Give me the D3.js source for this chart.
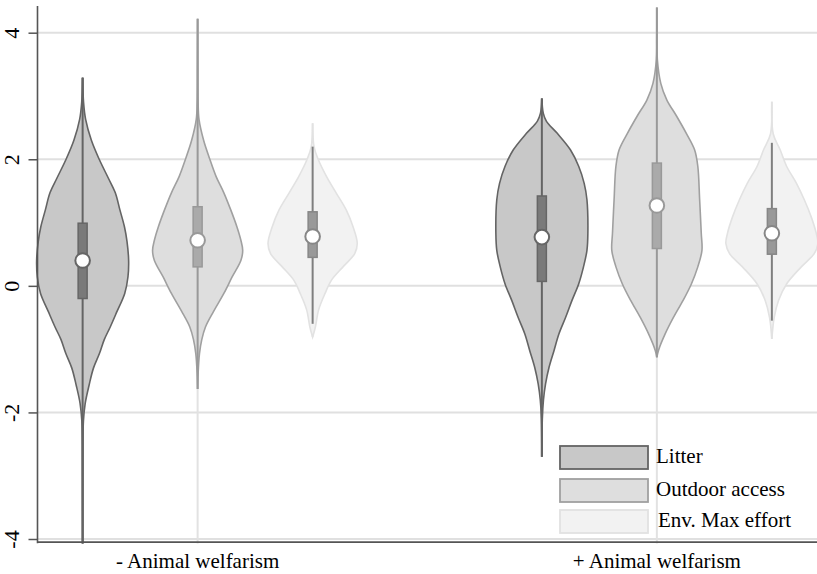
<!DOCTYPE html>
<html>
<head>
<meta charset="utf-8">
<script src="https://cdn.jsdelivr.net/npm/d3@7"></script>
<style>
  html, body { margin: 0; padding: 0; background: #fff; }
  svg { display: block; }
</style>
</head>
<body>
<svg id="chart" width="817" height="574"></svg>
<script>
// ---------------- DATA ----------------
const groups = ["- Animal welfarism", "+ Animal welfarism"];
const series = ["Litter", "Outdoor access", "Env. Max effort"];
const yTicks = [-4, -2, 0, 2, 4];

// box / whisker statistics [group][series]
const medians   = [[0.40, 0.72, 0.78], [0.77, 1.27, 0.83]];
const q1        = [[-0.20, 0.30, 0.45], [0.07, 0.59, 0.50]];
const q3        = [[0.99, 1.25, 1.17], [1.42, 1.94, 1.22]];
const whiskerLo = [[-4.07, -1.63, -0.60], [-2.70, -1.13, -0.55]];
const whiskerHi = [[3.29, 4.22, 2.20], [2.96, 4.40, 2.26]];
// faint tails beyond the whiskers
const tailLo    = [[-4.07, -4.07, -0.81], [-2.70, -4.07, -0.84]];
const tailHi    = [[3.29, 4.22, 2.57], [2.96, 4.40, 2.91]];

// density profiles: [value, relative density]
const densLitterMinus = [[3.29,0],[2.9,0.02],[2.63,0.065],[2.3,0.19],[2.0,0.36],[1.7,0.56],[1.47,0.71],[1.2,0.81],[0.93,0.91],[0.7,0.965],[0.4,1.0],[0.14,0.985],[-0.12,0.915],[-0.4,0.75],[-0.65,0.6],[-0.85,0.47],[-1.07,0.365],[-1.3,0.235],[-1.57,0.14],[-1.86,0.055],[-2.14,0.017],[-2.5,0.006],[-3.2,0.003],[-4.07,0]];
const densOutdoorMinus = [[4.22,0],[3.5,0.004],[2.9,0.01],[2.63,0.03],[2.3,0.13],[2.0,0.265],[1.73,0.4],[1.47,0.57],[1.2,0.72],[0.93,0.855],[0.72,0.94],[0.56,0.98],[0.40,0.94],[0.14,0.75],[-0.12,0.57],[-0.4,0.35],[-0.65,0.17],[-0.85,0.09],[-1.07,0.04],[-1.39,0.01],[-1.63,0]];
const densEnvMinus = [[2.57,0],[2.2,0.03],[2.0,0.12],[1.73,0.3],[1.47,0.51],[1.2,0.73],[0.93,0.88],[0.67,0.97],[0.51,0.915],[0.30,0.66],[0.09,0.41],[-0.12,0.27],[-0.38,0.13],[-0.65,0.06],[-0.81,0]];
const densLitterPlus = [[2.96,0],[2.73,0.03],[2.6,0.1],[2.41,0.335],[2.15,0.62],[1.89,0.8],[1.62,0.92],[1.36,0.98],[0.83,1.0],[0.56,0.98],[0.30,0.905],[0.03,0.8],[-0.23,0.655],[-0.5,0.515],[-0.76,0.37],[-1.02,0.265],[-1.29,0.155],[-1.55,0.08],[-1.8,0.035],[-2.1,0.01],[-2.7,0]];
const densOutdoorPlus = [[4.4,0],[3.9,0.003],[3.58,0.01],[3.2,0.085],[2.94,0.215],[2.68,0.43],[2.41,0.64],[2.15,0.82],[1.89,0.89],[1.36,0.93],[0.83,0.965],[0.56,0.98],[0.30,0.89],[0.03,0.75],[-0.23,0.57],[-0.5,0.36],[-0.76,0.18],[-1.02,0.035],[-1.13,0]];
const densEnvPlus = [[2.91,0],[2.4,0.03],[2.15,0.18],[1.89,0.32],[1.62,0.535],[1.36,0.705],[1.09,0.855],[0.83,0.965],[0.67,1.0],[0.51,0.92],[0.30,0.64],[0.03,0.32],[-0.23,0.145],[-0.5,0.05],[-0.84,0]];
const densities = [[densLitterMinus, densOutdoorMinus, densEnvMinus], [densLitterPlus, densOutdoorPlus, densEnvPlus]];

// ---------------- STYLE ----------------
const FONT = "'Liberation Serif', 'Times New Roman', Times, 'DejaVu Serif', serif";
const violinFill   = ["#c8c8c8", "#dedede", "#f2f2f2"];
const violinStroke = ["#646464", "#a0a0a0", "#e2e2e2"];
const whiskerCol   = ["#646464", "#999999", "#7f7f7f"];
const boxFill      = ["#7a7a7a", "#aaaaaa", "#999999"];
const boxStroke    = ["#666666", "#999999", "#878787"];
const tailCol      = ["#646464", "#e2e2e2", "#e6e6e6"];

const left = 37.5, right = 817;
const svg = d3.select("#chart");

const y = d3.scaleLinear().domain([-4, 4]).range([539, 32.7]);
const yTop = y(4.42), yBot = y(-4.05);

const xGroup = d3.scalePoint().domain(groups).range([left, right]).padding(0.3487);
const xSeries = d3.scalePoint().domain(series).range([-115, 115]);
const wScale = d3.scaleLinear().domain([0, 1]).range([0, 46]);

// gridlines
svg.append("g").selectAll("line").data(yTicks).join("line")
  .attr("x1", left).attr("x2", right)
  .attr("y1", d => y(d)).attr("y2", d => y(d))
  .attr("stroke", "#e0e0e0").attr("stroke-width", 2);

// violins
const area = d3.area()
  .curve(d3.curveCatmullRom)
  .y(d => y(d[0]));

groups.forEach((g, gi) => {
  series.forEach((s, si) => {
    const cx = xGroup(g) + xSeries(s);
    const gg = svg.append("g");
    gg.append("line")
      .attr("x1", cx).attr("x2", cx)
      .attr("y1", y(tailHi[gi][si])).attr("y2", y(tailLo[gi][si]))
      .attr("stroke", tailCol[si]).attr("stroke-width", 2);
    gg.append("path")
      .datum(densities[gi][si])
      .attr("d", area.x0(d => cx - wScale(d[1])).x1(d => cx + wScale(d[1])))
      .attr("fill", violinFill[si])
      .attr("stroke", violinStroke[si])
      .attr("stroke-width", 1.6);
    gg.append("line")
      .attr("x1", cx).attr("x2", cx)
      .attr("y1", y(whiskerHi[gi][si])).attr("y2", y(whiskerLo[gi][si]))
      .attr("stroke", whiskerCol[si]).attr("stroke-width", 2);
    gg.append("rect")
      .attr("x", cx - 4.5).attr("width", 9)
      .attr("y", y(q3[gi][si])).attr("height", y(q1[gi][si]) - y(q3[gi][si]))
      .attr("fill", boxFill[si]).attr("stroke", boxStroke[si]).attr("stroke-width", 1.5);
    gg.append("circle")
      .attr("cx", cx).attr("cy", y(medians[gi][si])).attr("r", 7.3)
      .attr("fill", "#fff").attr("stroke", boxStroke[si]).attr("stroke-width", 2);
  });
});

// y axis
const yAxis = d3.axisLeft(y).tickValues(yTicks).tickSize(9).tickPadding(0).tickFormat(d3.format("d"));
const ya = svg.append("g").attr("transform", `translate(${left},0)`).call(yAxis);
ya.attr("font-family", FONT);
ya.select(".domain").remove();
ya.selectAll(".tick line").attr("stroke", "#555").attr("stroke-width", 1.5);
ya.selectAll(".tick text")
  .attr("x", null).attr("dy", null)
  .attr("transform", "translate(-18.5,0) rotate(-90)")
  .attr("text-anchor", "middle")
  .attr("font-family", FONT)
  .attr("font-size", 22)
  .attr("fill", "#000")
  .text(d => d < 0 ? "-" + Math.abs(d) : d);
svg.append("line").attr("x1", left).attr("x2", left).attr("y1", yTop).attr("y2", yBot + 1)
  .attr("stroke", "#555").attr("stroke-width", 1.6);

// x axis
svg.append("line").attr("x1", left).attr("x2", right).attr("y1", yBot).attr("y2", yBot)
  .attr("stroke", "#555").attr("stroke-width", 1.6);
svg.append("g").selectAll("text").data(groups).join("text")
  .attr("x", d => xGroup(d)).attr("y", 568)
  .attr("text-anchor", "middle")
  .attr("font-family", FONT)
  .attr("font-size", 21)
  .attr("fill", "#000")
  .text(d => d);

// legend
const legX = 560, legW = 88, legH = 23;
const legY = [446, 479, 510];
const lg = svg.append("g");
series.forEach((s, si) => {
  lg.append("rect").attr("x", legX).attr("y", legY[si]).attr("width", legW).attr("height", legH)
    .attr("fill", violinFill[si]).attr("stroke", violinStroke[si]).attr("stroke-width", 1.8);
  lg.append("text").attr("x", legX + 96 + (si === 2 ? 2 : 0)).attr("y", legY[si] + 17)
    .attr("font-family", FONT).attr("font-size", 21).attr("fill", "#000").text(s);
});
</script>
</body>
</html>
